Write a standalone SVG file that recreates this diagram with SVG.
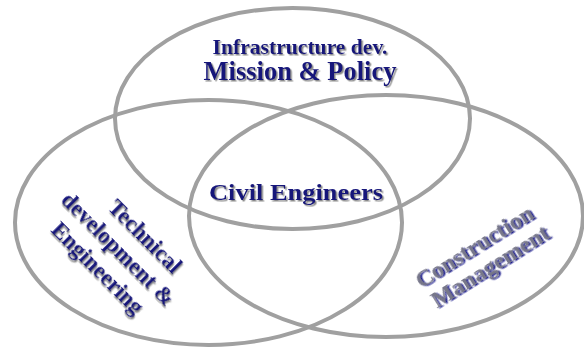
<svg xmlns="http://www.w3.org/2000/svg" width="584" height="347" viewBox="0 0 584 347">
<defs>
<filter id="sh" x="-10%" y="-30%" width="120%" height="160%">
<feDropShadow dx="1.5" dy="1.5" stdDeviation="0.4" flood-color="#8a8a8a" flood-opacity="1"/>
</filter>
<filter id="shb" x="-10%" y="-30%" width="120%" height="160%">
<feDropShadow dx="1.5" dy="1.5" stdDeviation="0.4" flood-color="#1a1a8c" flood-opacity="1"/>
</filter>
</defs>
<style>
.ring{fill:none;stroke:#a0a0a0;stroke-width:4}
.lbl{font-family:"Liberation Serif","Times New Roman",serif;font-weight:bold;fill:#14147a;text-anchor:middle;filter:url(#sh)}
.lbl2{font-family:"Liberation Serif","Times New Roman",serif;font-weight:bold;fill:#77778a;text-anchor:middle;filter:url(#shb)}
</style>
<rect width="584" height="347" fill="#ffffff"/>
<g id="connectors"/>
<g id="mission">
<ellipse class="ring" cx="292.5" cy="118.5" rx="177.5" ry="110.5"/>
<text class="lbl" x="300" y="54" font-size="20" textLength="175" lengthAdjust="spacingAndGlyphs">Infrastructure dev.</text>
<text class="lbl" x="300" y="80" font-size="26.5">Mission &amp; Policy</text>
</g>
<g id="technical">
<ellipse class="ring" cx="208.5" cy="222.5" rx="193.5" ry="122.5"/>
<g transform="translate(120,250) rotate(45)">
<text class="lbl" x="8" y="-20" font-size="23">Technical</text>
<text class="lbl" x="-2" y="8" font-size="23">development &amp;</text>
<text class="lbl" x="-3" y="36" font-size="23">Engineering</text>
</g>
</g>
<g id="construction">
<ellipse class="ring" cx="386" cy="216" rx="197" ry="121"/>
<g transform="translate(480,258) rotate(-32)">
<text class="lbl2" x="1" y="-5" font-size="24">Construction</text>
<text class="lbl2" x="4" y="20" font-size="24">Management</text>
</g>
</g>
<g id="civil">
<text class="lbl" x="296" y="200" font-size="24" textLength="174" lengthAdjust="spacingAndGlyphs">Civil Engineers</text>
</g>
</svg>
